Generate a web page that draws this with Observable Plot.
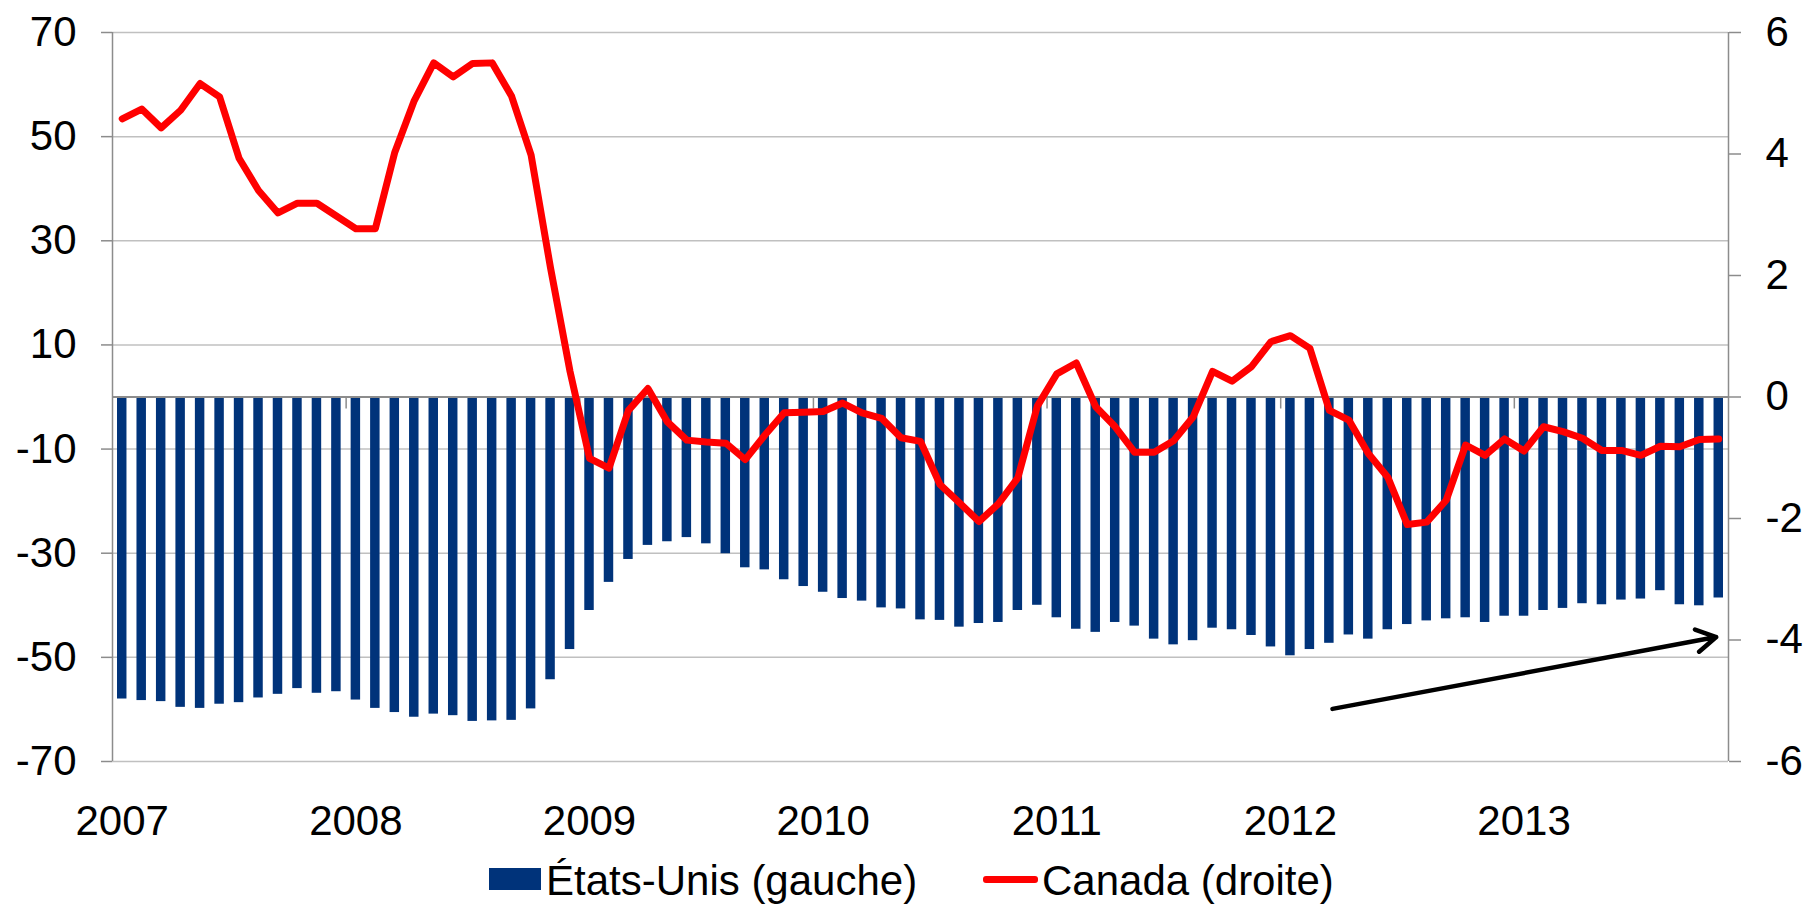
<!DOCTYPE html>
<html><head><meta charset="utf-8">
<script src="https://cdn.jsdelivr.net/npm/d3@7"></script>
<script src="https://cdn.jsdelivr.net/npm/@observablehq/plot@0.6"></script>
<style>
body{margin:0;background:#fff;font-family:"Liberation Sans",Arial,sans-serif;}
#wrap{position:relative;width:1806px;height:915px;overflow:hidden;}
.legtxt{position:absolute;top:860px;height:42px;line-height:42px;font-size:42px;color:#000;white-space:nowrap;}
.sw{position:absolute;}
</style></head><body><div id="wrap"></div><script>
// Categories: monthly, Jan 2007 – Nov 2013
const years = ["2007","2008","2009","2010","2011","2012","2013"];
const monthCount = 83;
const months = [];
for (const y of years) for (let m = 1; m <= 12; m++) if (months.length < monthCount) months.push(y + "-" + String(m).padStart(2,"0"));

// États-Unis (left axis)
const usValues = [
 -58.0,-58.3,-58.5,-59.6,-59.8,-59.0,-58.7,-57.8,-57.1,-56.0,-56.9,-56.6,
 -58.2,-59.8,-60.6,-61.5,-60.9,-61.2,-62.3,-62.2,-62.1,-59.9,-54.3,-48.5,
 -41.0,-35.6,-31.2,-28.5,-27.8,-27.0,-28.2,-30.1,-32.8,-33.2,-35.1,-36.4,
 -37.5,-38.7,-39.2,-40.5,-40.7,-42.8,-42.9,-44.2,-43.5,-43.3,-41.0,-40.0,
 -42.4,-44.6,-45.2,-43.3,-44.0,-46.5,-47.6,-46.8,-44.4,-44.7,-45.8,-48.0,
 -49.7,-48.5,-47.3,-45.7,-46.5,-44.7,-43.7,-43.0,-42.6,-42.4,-43.3,-42.1,
 -42.1,-41.0,-40.6,-39.7,-39.9,-39.0,-38.8,-37.2,-39.9,-40.1,-38.6
];
// Canada (right axis)
const caValues = [
 4.58,4.74,4.43,4.72,5.16,4.94,3.93,3.40,3.03,3.19,3.19,2.98,
 2.77,2.77,4.03,4.88,5.50,5.27,5.49,5.50,4.95,3.98,2.12,0.42,
 -1.01,-1.17,-0.22,0.14,-0.41,-0.71,-0.74,-0.76,-1.03,-0.63,-0.26,-0.25,
 -0.24,-0.10,-0.26,-0.35,-0.67,-0.73,-1.44,-1.74,-2.05,-1.76,-1.33,-0.15,
 0.38,0.56,-0.16,-0.49,-0.91,-0.91,-0.72,-0.33,0.42,0.26,0.50,0.91,
 1.01,0.80,-0.22,-0.38,-0.93,-1.32,-2.10,-2.06,-1.70,-0.79,-0.96,-0.69,
 -0.89,-0.49,-0.57,-0.68,-0.88,-0.88,-0.96,-0.81,-0.82,-0.70,-0.69
];
const leftTicks = [-70,-50,-30,-10,10,30,50,70];
const rightTicks = [-6,-4,-2,0,2,4,6];
const legendLabels = ["États-Unis (gauche)", "Canada (droite)"];
// annotation arrow (month index, left-axis units)
const arrowData = [{x1: 62.66, y1: -59.9, x2: 82.37, y2: -46.1}];

const navy = "#00337a", red = "#ff0000", axisGray = "#8c8c8c", gridGray = "#c0c0c0";
const scaleR = 70 / 6;
const data = months.map((m, i) => ({i, m, us: usValues[i], ca: caValues[i]}));
const yearBoundaries = years.slice(1).map((y) => months.indexOf(y + "-01")).filter(i => i > 0);
const yearLabelPos = years.map((y) => months.indexOf(y + "-01") + 0.5);

const chart = Plot.plot({
  width: 1806, height: 850,
  marginLeft: 112, marginRight: 78, marginTop: 32, marginBottom: 89,
  x: {type: "linear", domain: [0, months.length]},
  y: {domain: [-70, 70]},
  style: {fontFamily: '"Liberation Sans", Arial, sans-serif', fontSize: "42px", color: "#000", background: "#fff", overflow: "visible"},
  marks: [
    Plot.ruleY(leftTicks, {stroke: gridGray, strokeWidth: 1.5}),
    Plot.rect(data, {x1: "i", x2: d => d.i + 1, y1: 0, y2: "us", insetLeft: 5, insetRight: 5, fill: navy}),
    Plot.ruleY([0], {stroke: axisGray, strokeWidth: 2}),
    Plot.ruleX([0, months.length], {stroke: axisGray, strokeWidth: 1.5}),
    Plot.ruleX(yearBoundaries, {x: d => d, y1: 0, y2: 0, insetBottom: -12, stroke: axisGray, strokeWidth: 1.5}),
    Plot.axisY(leftTicks, {anchor: "left", tickSize: 11, tickPadding: 25, tickFormat: d => String(d), stroke: axisGray, strokeWidth: 1.5, fontSize: 42, label: null}),
    Plot.axisY(rightTicks.map(v => v * scaleR), {anchor: "right", tickSize: 12, tickPadding: 25, tickFormat: d => String(Math.round(d / scaleR)), stroke: axisGray, strokeWidth: 1.5, fontSize: 42, label: null}),
    Plot.axisX(yearLabelPos, {anchor: "bottom", tickSize: 0, tickPadding: 44, tickFormat: d => years[yearLabelPos.indexOf(d)], fontSize: 42, label: null}),
    Plot.line(data, {x: d => d.i + 0.5, y: d => d.ca * scaleR, stroke: red, strokeWidth: 7, strokeLinejoin: "round", strokeLinecap: "round"}),
    Plot.arrow(arrowData, {x1: "x1", y1: "y1", x2: "x2", y2: "y2", stroke: "#000", strokeWidth: 4.5, headLength: 7.5, bend: 0})
  ]
});
const wrap = document.getElementById("wrap");
chart.style.position = "absolute"; chart.style.left = "0"; chart.style.top = "0";
wrap.appendChild(chart);

// Legend below the chart
function add(tag, cls, css, text) {
  const e = document.createElement(tag); e.className = cls; Object.assign(e.style, css);
  if (text) e.textContent = text; wrap.appendChild(e); return e;
}
add("div", "sw", {left: "489px", top: "868px", width: "52px", height: "22px", background: navy});
add("div", "legtxt", {left: "546px"}, legendLabels[0]);
add("div", "sw", {left: "983px", top: "876px", width: "55px", height: "7px", background: red, borderRadius: "3px"});
add("div", "legtxt", {left: "1042px"}, legendLabels[1]);
</script></body></html>
